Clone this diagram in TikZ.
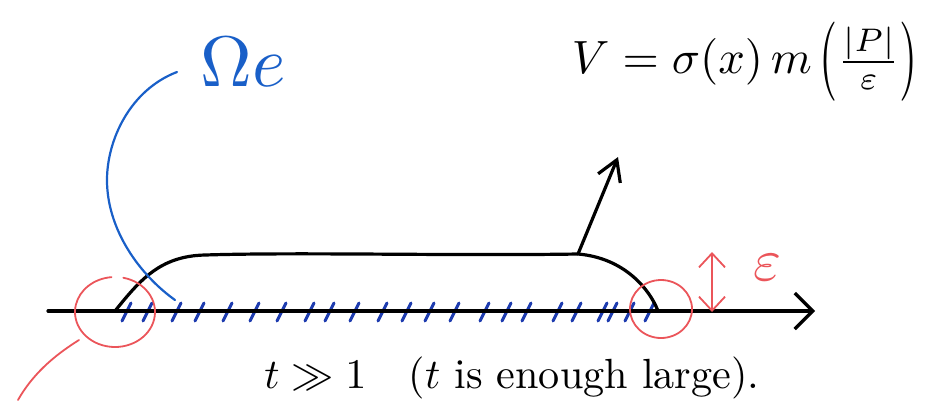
\documentclass[tikz,border=0pt]{standalone}
\usetikzlibrary{arrows.meta}
\definecolor{inkblue}{RGB}{25,95,200}
\definecolor{hatchblue}{RGB}{30,60,175}
\definecolor{inkred}{RGB}{235,85,90}
\newcommand{\tallparen}[1]{\raisebox{-0.175em}{\scalebox{1}[1.7]{#1}}}
\begin{document}
\begin{tikzpicture}[x=1pt,y=-1pt,
  ink/.style={line width=3.2pt, line cap=round, line join=round},
  hatch/.style={hatchblue, line width=3pt, line cap=round},
  redline/.style={inkred, line width=1.8pt, line cap=round},
  blueline/.style={inkblue, line width=2.2pt, line cap=round}]
\useasboundingbox (0,0) rectangle (925,400);
% axis
\coordinate (axL) at (48,311);
\coordinate (axR) at (815,311);
% hatch marks
\foreach \x in {127,148,177,200,228,255,282,310,330,355,383,407,430,455,485,507,527,558,577,603,613,630,650}
  \draw[hatch] (\x-5,321) -- (\x+4,303);
\draw[ink, -{Straight Barb[length=18pt,width=36pt]}] (axL) -- (axR);
% black profile curve
\coordinate (c0) at (115,311);
\coordinate (c1) at (205,255);
\coordinate (nbase) at (578,254);
\coordinate (c3) at (658,311);
\draw[ink] (c0) .. controls (140,280) and (160,256) .. (c1)
  .. controls (300,252) and (450,256) .. (nbase)
  .. controls (625,258) and (650,290) .. (c3);
% normal arrow
\coordinate (ntip) at (618,157);
\draw[ink, -{Straight Barb[length=20pt,width=24pt]}] (nbase) -- (ntip);
% Omega_e label and blue connector
\node[inkblue, inner sep=0pt] (om) at (243,62) {\resizebox{85pt}{!}{$\Omega e$}};
\coordinate (bS) at (177,72);
\coordinate (bM) at (107,180);
\coordinate (bE) at (175,300);
\draw[blueline] (bS) .. controls (130,90) and (107,140) .. (bM)
  .. controls (107,230) and (140,275) .. (bE);
% red circles
\draw[redline] (115,312) ++(-78:40 and 35) arc[start angle=-78, end angle=265, x radius=40, y radius=35];
\coordinate (rl0) at (79,340);
\coordinate (rl1) at (18,400);
\draw[redline] (rl0) .. controls (60,352) and (35,370) .. (rl1);
\draw[redline] (661,309) ellipse[x radius=31, y radius=29];
% epsilon arrow
\coordinate (eT) at (712,252);
\coordinate (eB) at (712,312);
\draw[redline, {Straight Barb[length=14pt,width=26pt]}-{Straight Barb[length=14pt,width=26pt]}] (eT) -- (eB);
\node[inkred, scale=6, inner sep=0pt] (eps) at (767,268) {$\varepsilon$};
% formula
\node[inner sep=0pt] (formula) at (745,62) {\resizebox{346pt}{!}{$V=\sigma(x)\,m\,$\tallparen{(}$\frac{|P|}{\varepsilon}$\tallparen{)}}};
% bottom text
\node[inner sep=0pt, anchor=base] (tlarge) at (512,388) {\resizebox{495pt}{!}{$t \gg 1$\quad($t$ is enough large).}};
\end{tikzpicture}
\end{document}
